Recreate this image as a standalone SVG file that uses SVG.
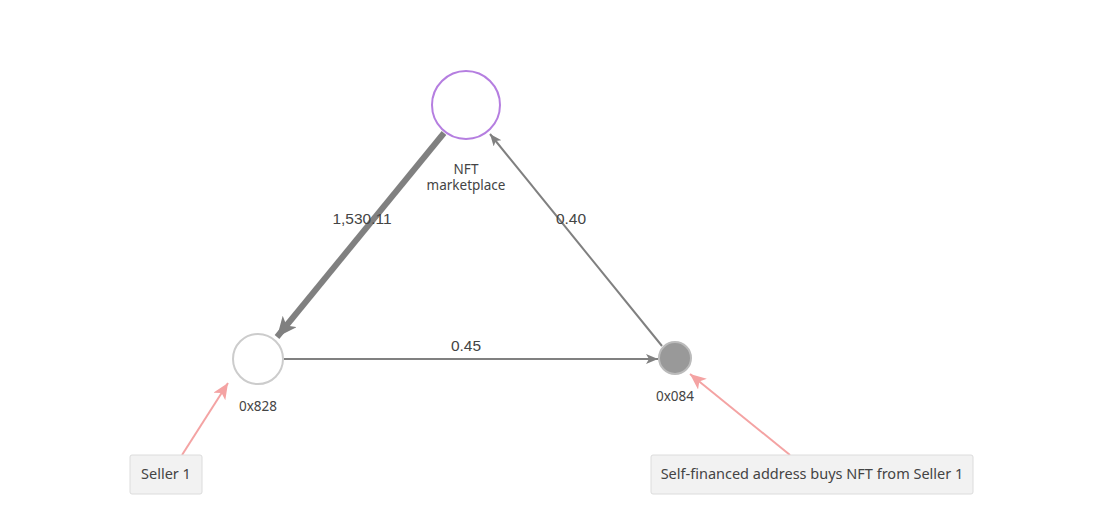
<svg xmlns="http://www.w3.org/2000/svg" width="1110" height="518" viewBox="0 0 1110 518">
<style>
.edge{stroke:#808080;fill:none}
.elabel{font-family:"Liberation Sans",Arial,sans-serif;font-size:15.5px;fill:#444;text-anchor:middle}
.nlabel{font-family:"Noto Sans","Open Sans",sans-serif;font-size:13.5px;fill:#444;text-anchor:middle}
.note{fill:#f2f2f2;stroke:#dcdcdc;stroke-width:1}
.ntext{font-family:"Noto Sans","Open Sans",sans-serif;font-size:14.5px;fill:#444;text-anchor:middle}
.pink{stroke:#f4a3a3;stroke-width:2;fill:none}
</style>
<defs>
<marker id="ahThick" markerUnits="userSpaceOnUse" markerWidth="24" markerHeight="20" refX="20" refY="9" orient="auto">
<path d="M0,0 L20,9 L0,18 L5,9 z" fill="#808080"/>
</marker>
<marker id="ahThin" markerUnits="userSpaceOnUse" markerWidth="14" markerHeight="12" refX="12" refY="5" orient="auto">
<path d="M0,0 L12,5 L0,10 L3,5 z" fill="#808080"/>
</marker>
<marker id="ahPink" markerUnits="userSpaceOnUse" markerWidth="20" markerHeight="16" refX="16" refY="7" orient="auto">
<path d="M0,0 L16,7 L0,14 L4,7 z" fill="#f4a3a3"/>
</marker>
</defs>
<rect width="1110" height="518" fill="#ffffff"/>
<g id="connectors">
<line class="edge" x1="444" y1="133" x2="277" y2="337" stroke-width="6" marker-end="url(#ahThick)"/>
<line class="edge" x1="662" y1="346" x2="490" y2="134" stroke-width="2" marker-end="url(#ahThin)"/>
<line class="edge" x1="284" y1="359" x2="658" y2="359" stroke-width="2" marker-end="url(#ahThin)"/>
<line class="pink" x1="182" y1="455" x2="228" y2="383" marker-end="url(#ahPink)"/>
<line class="pink" x1="790" y1="455" x2="690" y2="374" marker-end="url(#ahPink)"/>
<text class="elabel" x="362" y="224">1,530.11</text>
<text class="elabel" x="571" y="224">0.40</text>
<text class="elabel" x="466" y="351">0.45</text>
</g>
<g id="node-marketplace">
<circle cx="466" cy="105" r="34" fill="#ffffff" stroke="#b57ee0" stroke-width="2"/>
<text class="nlabel" x="466" y="174">NFT</text>
<text class="nlabel" x="466" y="190">marketplace</text>
</g>
<g id="node-0x828">
<circle cx="258" cy="359" r="25" fill="#ffffff" stroke="#cccccc" stroke-width="2"/>
<text class="nlabel" x="258" y="411">0x828</text>
</g>
<g id="node-0x084">
<circle cx="675" cy="358" r="16" fill="#999999" stroke="#bbbbbb" stroke-width="2"/>
<text class="nlabel" x="675" y="401">0x084</text>
</g>
<g id="note-seller1">
<rect class="note" x="130" y="455" width="72" height="39" rx="2"/>
<text class="ntext" x="166" y="479">Seller 1</text>
</g>
<g id="note-selffinanced">
<rect class="note" x="651" y="455" width="322" height="39" rx="2"/>
<text class="ntext" x="812" y="479">Self-financed address buys NFT from Seller 1</text>
</g>
</svg>
